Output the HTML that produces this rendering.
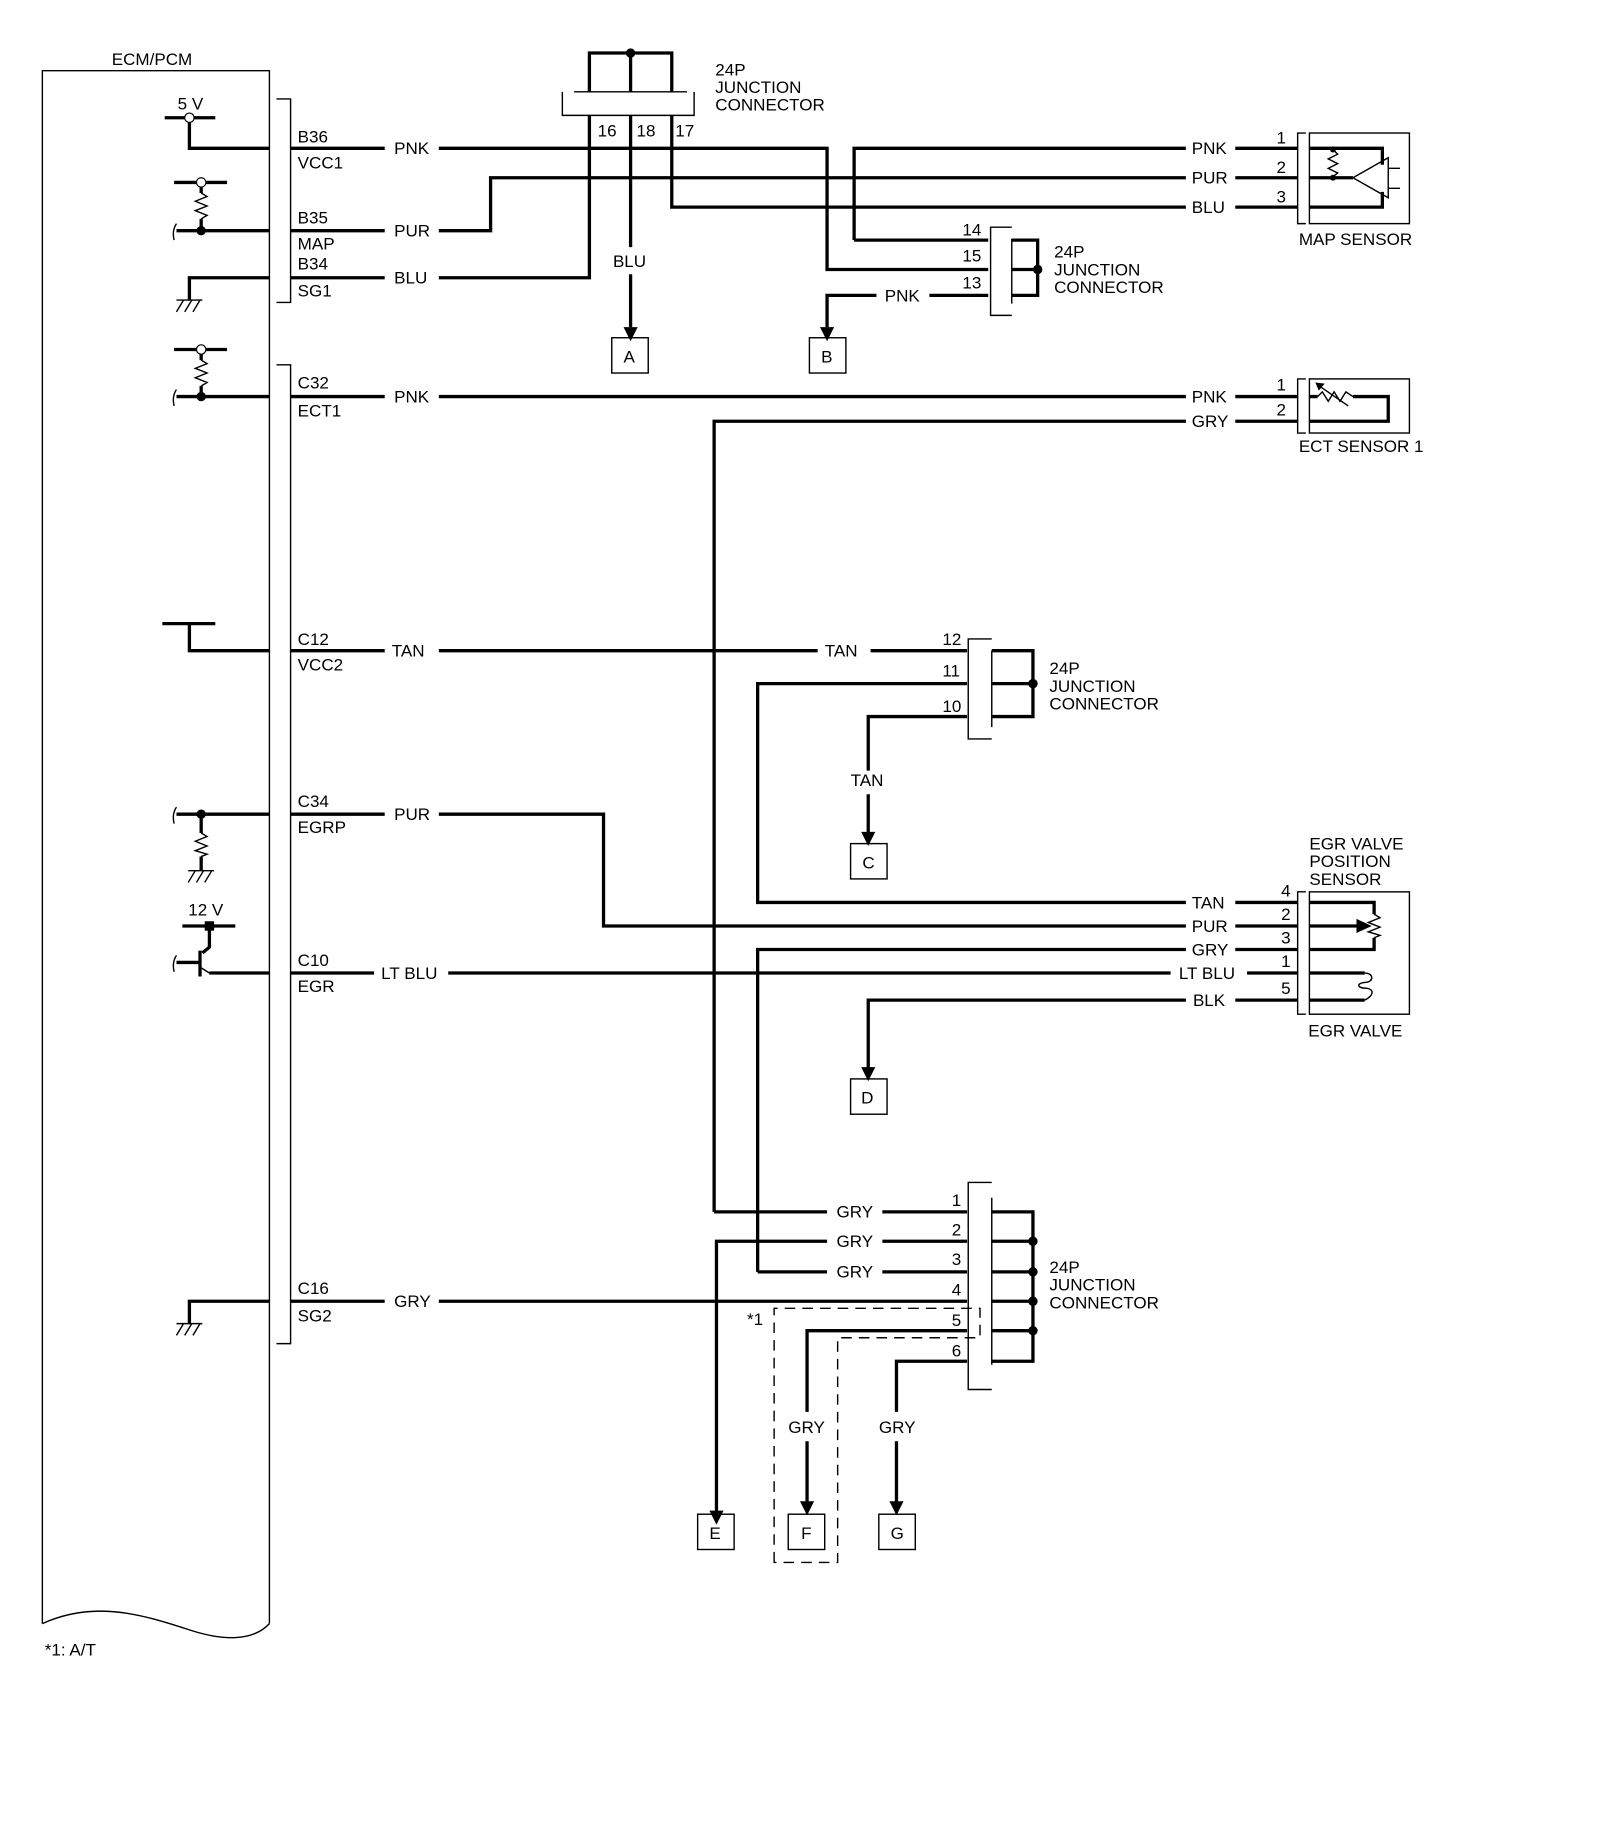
<!DOCTYPE html>
<html><head><meta charset="utf-8"><style>
html,body{margin:0;padding:0;background:#fff;}
svg{display:block;}
text{font-family:"Liberation Sans",Arial,sans-serif;font-size:14.5px;fill:#000;}
.w{stroke:#000;stroke-width:2.8;fill:none;}
.t{stroke:#000;stroke-width:1.2;fill:none;}
.d{stroke:#000;stroke-width:1.2;fill:none;stroke-dasharray:9,6;}
</style></head><body>
<svg width="1600" height="1839" viewBox="0 0 1360 1563" xmlns="http://www.w3.org/2000/svg">
<rect width="1360" height="1563" fill="#fff"/>
<text x="95" y="55">ECM/PCM</text>
<path class="t" d="M36 1380 V60 H229 V1380"/>
<path class="t" d="M36 1380 C80 1360,120 1372,160 1385 C190 1395,215 1395,229 1380"/>
<text x="38" y="1407">*1: A/T</text>
<path class="t" d="M235 84 H247 V257 H235"/>
<path class="t" d="M235 310 H247 V1142 H235"/>

<text x="151" y="93">5 V</text>
<path class="w" d="M140 100 H183"/>
<circle cx="161" cy="100" r="4" fill="#fff" stroke="#000" stroke-width="1"/>
<path class="w" d="M161 104 V126 H229"/>
<text x="253" y="121">B36</text><text x="253" y="143">VCC1</text>
<path class="w" d="M247 126 H327 M373 126 H703 V229 H840"/>
<text x="335" y="131">PNK</text>

<path class="w" d="M148 155 H193"/>
<circle cx="171" cy="155" r="4" fill="#fff" stroke="#000" stroke-width="1"/>
<path class="w" d="M171 159 V164 M171 186 V196"/>
<path class="t" d="M171 164 L176 167 L166 171 L176 175 L166 179 L176 183 L171 186"/>
<path class="w" d="M150 196 H229"/><path class="t" d="M150 190 Q146 196 148 204"/>
<circle cx="171" cy="196" r="4"/>
<text x="253" y="190">B35</text><text x="253" y="212">MAP</text>
<path class="w" d="M247 196 H327 M373 196 H417 V151 H1008"/>
<text x="335" y="201">PUR</text>

<path class="w" d="M229 236 H161 V255"/>
<path class="t" d="M150 255 H172 M156 255 L150 265 M163 255 L157 265 M170 255 L164 265"/>
<text x="253" y="229">B34</text><text x="253" y="252">SG1</text>
<path class="w" d="M247 236 H327 M373 236 H501 V98"/>
<text x="335" y="241">BLU</text>

<path class="w" d="M501 78 V45 H571 V78 M536 45 V78"/>
<circle cx="536" cy="45" r="4"/>
<path class="t" d="M488 78 H584 M478 78 V98 H590 V78"/>
<text x="508" y="116">16</text><text x="541" y="116">18</text><text x="574" y="116">17</text>
<text x="608" y="64">24P</text><text x="608" y="79">JUNCTION</text><text x="608" y="94">CONNECTOR</text>
<path class="w" d="M536 98 V210 M536 233 V278"/>
<text x="521" y="227">BLU</text>
<polygon points="530,278 542,278 536,290"/>
<rect x="520" y="287" width="31" height="30" class="t"/><text x="530" y="308">A</text>
<path class="w" d="M571 98 V176 H1008"/>

<path class="w" d="M726 204 V126 H1008 M726 204 H840"/>
<text x="1013" y="131">PNK</text><text x="1013" y="156">PUR</text><text x="1013" y="181">BLU</text>
<path class="w" d="M1050 126 H1103 M1050 151 H1103 M1050 176 H1103"/>
<text x="1085" y="122">1</text><text x="1085" y="147">2</text><text x="1085" y="172">3</text>
<path class="t" d="M1110 113 H1103 V190 H1110"/>
<rect x="1113" y="113" width="85" height="77" class="t"/>
<path class="w" d="M1113 126 H1175 V140 M1113 176 H1175 V163 M1113 151 H1150"/>
<path class="t" d="M1150 151 L1180 134 V168 Z M1180 143 H1190 M1180 160 H1190"/>
<path class="t" d="M1133 127 L1137 131 L1129 135 L1137 139 L1129 143 L1137 147 L1133 150"/>
<circle cx="1133" cy="127" r="2.5"/><circle cx="1133" cy="151" r="2.5"/>
<text x="1104" y="208">MAP SENSOR</text>

<path class="t" d="M860 193 H842 V268 H860 M860 203 V258"/>
<path class="w" d="M860 204 H882 V251 H860 M860 229 H882"/>
<circle cx="882" cy="229" r="4"/>
<text x="818" y="200">14</text><text x="818" y="222">15</text><text x="818" y="245">13</text>
<text x="896" y="219">24P</text><text x="896" y="234">JUNCTION</text><text x="896" y="249">CONNECTOR</text>
<path class="w" d="M840 251 H790 M745 251 H703 V278"/>
<text x="752" y="256">PNK</text>
<polygon points="697,278 709,278 703,290"/>
<rect x="688" y="287" width="31" height="30" class="t"/><text x="698" y="308">B</text>

<path class="w" d="M148 297 H193"/>
<circle cx="171" cy="297" r="4" fill="#fff" stroke="#000" stroke-width="1"/>
<path class="w" d="M171 301 V306 M171 328 V337"/>
<path class="t" d="M171 306 L176 309 L166 313 L176 317 L166 321 L176 325 L171 328"/>
<path class="w" d="M150 337 H229"/><path class="t" d="M150 331 Q146 337 148 345"/>
<circle cx="171" cy="337" r="4"/>
<text x="253" y="330">C32</text><text x="253" y="354">ECT1</text>
<path class="w" d="M247 337 H327 M373 337 H1008 M1050 337 H1103"/>
<text x="335" y="342">PNK</text><text x="1013" y="342">PNK</text>
<path class="w" d="M607 1030 V358 H1008 M1050 358 H1103"/>
<text x="1013" y="363">GRY</text>
<text x="1085" y="332">1</text><text x="1085" y="353">2</text>
<path class="t" d="M1110 322 H1103 V368 H1110"/>
<rect x="1113" y="322" width="85" height="46" class="t"/>
<path class="w" d="M1113 337 H1120 M1150 337 H1180 V358 H1113"/>
<path class="t" d="M1120 337 L1124 333 L1129 341 L1134 333 L1139 341 L1144 333 L1150 337 M1120 327 L1146 345"/>
<polygon points="1118,325 1126,326 1121,332"/>
<text x="1104" y="384">ECT SENSOR 1</text>

<path class="w" d="M138 530 H183 M161 530 V553 H229"/>
<text x="253" y="548">C12</text><text x="253" y="570">VCC2</text>
<path class="w" d="M247 553 H327 M373 553 H695 M740 553 H822"/>
<text x="333" y="558">TAN</text><text x="701" y="558">TAN</text>
<path class="t" d="M843 543 H823 V628 H843 M843 553 V618"/>
<path class="w" d="M843 553 H878 V609 H843 M843 581 H878"/>
<circle cx="878" cy="581" r="4"/>
<text x="801" y="548">12</text><text x="801" y="575">11</text><text x="801" y="605">10</text>
<text x="892" y="573">24P</text><text x="892" y="588">JUNCTION</text><text x="892" y="603">CONNECTOR</text>
<path class="w" d="M822 581 H644 V767 H1008 M822 609 H738 V655 M738 675 V708"/>
<text x="723" y="668">TAN</text>
<polygon points="732,707 744,707 738,719"/>
<rect x="723" y="717" width="31" height="30" class="t"/><text x="733" y="738">C</text>

<path class="w" d="M150 692 H229"/><path class="t" d="M150 686 Q146 692 148 700"/>
<circle cx="171" cy="692" r="4"/>
<path class="w" d="M171 692 V708 M171 728 V740"/>
<path class="t" d="M171 708 L176 711 L166 715 L176 719 L166 723 L176 726 L171 728"/>
<path class="t" d="M160 740 H182 M166 740 L160 750 M173 740 L167 750 M180 740 L174 750"/>
<text x="253" y="686">C34</text><text x="253" y="708">EGRP</text>
<path class="w" d="M247 692 H327 M373 692 H513 V787 H1008"/>
<text x="335" y="697">PUR</text>

<text x="160" y="778">12 V</text>
<path class="w" d="M155 787 H200 M178 787 V805 L172 810"/>
<rect x="174" y="783" width="8" height="8"/>
<path class="w" d="M170 808 V830 M150 818 H170"/>
<path class="t" d="M170 822 L178 827 H229 M150 812 Q146 818 148 826"/>
<path class="w" d="M178 827 H229"/>
<text x="253" y="821">C10</text><text x="253" y="843">EGR</text>
<path class="w" d="M247 827 H318 M381 827 H995 M1060 827 H1103"/>
<text x="324" y="832">LT BLU</text><text x="1002" y="832">LT BLU</text>

<path class="w" d="M644 1081 V807 H1008"/>
<path class="w" d="M738 910 V850 H1008"/>
<polygon points="732,907 744,907 738,919"/>
<rect x="723" y="917" width="31" height="30" class="t"/><text x="732" y="938">D</text>

<text x="1013" y="772">TAN</text><text x="1013" y="792">PUR</text><text x="1013" y="812">GRY</text><text x="1014" y="855">BLK</text>
<path class="w" d="M1050 767 H1103 M1050 787 H1103 M1050 807 H1103 M1050 850 H1103"/>
<text x="1089" y="762">4</text><text x="1089" y="782">2</text><text x="1089" y="802">3</text><text x="1089" y="822">1</text><text x="1089" y="845">5</text>
<text x="1113" y="722">EGR VALVE</text><text x="1113" y="737">POSITION</text><text x="1113" y="752">SENSOR</text>
<path class="t" d="M1110 758 H1103 V862 H1110"/>
<rect x="1113" y="758" width="85" height="104" class="t"/>
<path class="w" d="M1113 767 H1168 V777 M1113 807 H1168 V797 M1113 787 H1155 M1113 827 H1160 M1113 850 H1160"/>
<polygon points="1153,781 1166,787 1153,793"/>
<path class="t" d="M1168 777 L1173 780 L1163 784 L1173 788 L1163 792 L1173 795 L1168 797"/>
<path class="t" d="M1160 827 C1168 827,1168 835,1160 835 C1152 836,1154 840,1162 840 C1168 841,1168 846,1160 850"/>
<text x="1112" y="881">EGR VALVE</text>

<path class="t" d="M843 1005 H823 V1181 H843 M843 1018 V1160"/>
<path class="w" d="M843 1030 H878 V1157 H843 M843 1055 H878 M843 1081 H878 M843 1106 H878 M843 1131 H878"/>
<circle cx="878" cy="1055" r="4"/><circle cx="878" cy="1081" r="4"/><circle cx="878" cy="1106" r="4"/><circle cx="878" cy="1131" r="4"/>
<text x="809" y="1025">1</text><text x="809" y="1050">2</text><text x="809" y="1075">3</text><text x="809" y="1101">4</text><text x="809" y="1127">5</text><text x="809" y="1153">6</text>
<text x="892" y="1082">24P</text><text x="892" y="1097">JUNCTION</text><text x="892" y="1112">CONNECTOR</text>
<path class="w" d="M607 1030 H703 M750 1030 H822 M644 1081 H703 M750 1081 H822 M750 1055 H822 M703 1055 H609 V1290"/>
<text x="711" y="1035">GRY</text><text x="711" y="1060">GRY</text><text x="711" y="1086">GRY</text>
<polygon points="603,1284 615,1284 609,1296"/>
<rect x="593" y="1287" width="31" height="30" class="t"/><text x="603" y="1308">E</text>

<path class="w" d="M229 1106 H161 V1125"/>
<path class="t" d="M150 1125 H172 M156 1125 L150 1135 M163 1125 L157 1135 M170 1125 L164 1135"/>
<text x="253" y="1100">C16</text><text x="253" y="1123">SG2</text>
<path class="w" d="M247 1106 H327 M373 1106 H822"/>
<text x="335" y="1111">GRY</text>

<path class="w" d="M822 1131 H686 V1200 M686 1225 V1278 M822 1157 H762 V1200 M762 1225 V1278"/>
<text x="670" y="1218">GRY</text><text x="747" y="1218">GRY</text>
<polygon points="680,1276 692,1276 686,1288"/>
<polygon points="756,1276 768,1276 762,1288"/>
<rect x="670" y="1287" width="31" height="30" class="t"/><text x="681" y="1308">F</text>
<rect x="747" y="1287" width="31" height="30" class="t"/><text x="757" y="1308">G</text>
<path class="d" d="M658 1328 V1112 H833 V1137 H712 V1328 Z"/>
<text x="635" y="1126">*1</text>
</svg>
</body></html>
